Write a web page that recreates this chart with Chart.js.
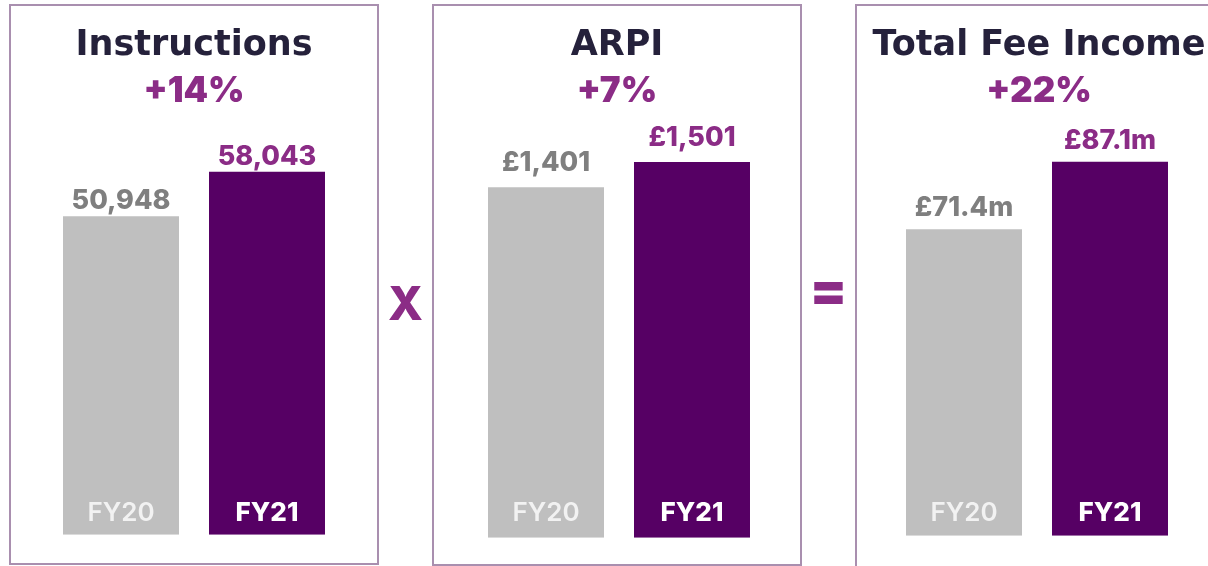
<!DOCTYPE html>
<html><head><meta charset="utf-8">
<script src="https://cdn.jsdelivr.net/npm/chart.js@4.4.1/dist/chart.umd.min.js"></script>
<style>
html,body{margin:0;padding:0;background:#fff;width:1208px;height:566px;overflow:hidden;position:relative}
.panel{position:absolute;border:2px solid #a98faf;box-sizing:border-box}
canvas{position:absolute;top:0}
</style></head>
<body>
<div class="panel" style="left:9px;top:4px;width:370px;height:561px"></div>
<div class="panel" style="left:432px;top:4px;width:370px;height:562px"></div>
<div class="panel" style="left:855px;top:4px;width:370px;height:600px"></div>
<canvas id="c1" width="368" height="566" style="left:10px"></canvas>
<canvas id="c2" width="368" height="566" style="left:433px"></canvas>
<canvas id="c3" width="368" height="566" style="left:855px"></canvas>
<canvas id="ov" width="1208" height="566" style="left:0;pointer-events:none"></canvas>
<script>
// ---- data ----
const categories = ['FY20', 'FY21'];
const titles = ['Instructions', 'ARPI', 'Total Fee Income'];
const changes = ['+14%', '+7%', '+22%'];
const instructions = [50948, 58043];
const arpi = [1401, 1501];
const feeIncome = [71.4, 87.1];
const operators = ['X', '='];

// ---- formatting ----
const fmtInstr = v => v.toLocaleString('en-GB');
const fmtArpi = v => '£' + v.toLocaleString('en-GB');
const fmtFee = v => '£' + v.toFixed(1) + 'm';

// ---- styles / layout ----
const barColors = ['#bfbfbf', '#560064'];
const valueColors = ['#7f7f7f', '#8b2c86'];
const catColors = ['#f2f2f2', '#ffffff'];
const TITLE_FONT = 'bold 35px "DejaVu Sans"';
const CHANGE_FONT = '900 35px Inter';
const VALUE_FONT = '800 27px Inter';
const CAT_FONTS = ['600 26px Inter', '800 26px Inter'];

const panels = [
  {id:'c1', data:instructions, fmt:fmtInstr, max:70000, pad:{left:38,right:38,top:97.1,bottom:31.3}, valOff:7, catOff:14},
  {id:'c2', data:arpi, fmt:fmtArpi, max:1800, pad:{left:40,right:36,top:87.3,bottom:28.3}, valOff:16, catOff:16.5},
  {id:'c3', data:feeIncome, fmt:fmtFee, max:100, pad:{left:36,right:40,top:106.4,bottom:30.3}, valOff:13, catOff:15}
];

panels.forEach((p, idx) => {
  const textPlugin = {
    id: 'panelText',
    afterDatasetsDraw(chart) {
      const ctx = chart.ctx;
      const cx = chart.width / 2;
      ctx.save();
      ctx.textAlign = 'center';
      ctx.textBaseline = 'alphabetic';
      ctx.fillStyle = '#25213b';
      ctx.font = TITLE_FONT;
      ctx.fillText(titles[idx], cx, 54.5);
      ctx.fillStyle = '#8b2c86';
      ctx.font = CHANGE_FONT;
      ctx.fillText(changes[idx], cx, 102);
      const meta = chart.getDatasetMeta(0);
      meta.data.forEach((el, i) => {
        ctx.fillStyle = valueColors[i];
        ctx.font = VALUE_FONT;
        ctx.fillText(p.fmt(p.data[i]), el.x, el.y - p.valOff);
        ctx.fillStyle = catColors[i];
        ctx.font = CAT_FONTS[i];
        ctx.fillText(categories[i], el.x, chart.chartArea.bottom - p.catOff);
      });
      ctx.restore();
    }
  };
  new Chart(document.getElementById(p.id), {
    type: 'bar',
    data: {
      labels: categories,
      datasets: [{
        data: p.data,
        backgroundColor: barColors,
        borderWidth: 0,
        barPercentage: 1,
        categoryPercentage: 0.7945
      }]
    },
    options: {
      responsive: false,
      animation: false,
      events: [],
      layout: {padding: p.pad},
      plugins: {legend: {display: false}, tooltip: {enabled: false}, title: {display: false}},
      scales: {
        x: {display: false},
        y: {display: false, min: 0, max: p.max}
      }
    },
    plugins: [textPlugin]
  });
});

// operators between panels
function drawOps() {
  const ov = document.getElementById('ov');
  const ctx = ov.getContext('2d');
  ctx.fillStyle = '#8b2c86';
  ctx.textAlign = 'center';
  ctx.textBaseline = 'alphabetic';
  const spec = [
    {font: '800 46px Inter', cx: 405.5, cy: 303},
    {font: '900 54px Inter', cx: 828.5, cy: 293}
  ];
  operators.forEach((t, i) => {
    ctx.font = spec[i].font;
    const m = ctx.measureText(t);
    const y = spec[i].cy + (m.actualBoundingBoxAscent - m.actualBoundingBoxDescent) / 2;
    ctx.fillText(t, spec[i].cx, y);
  });
}
drawOps();
</script>
</body></html>
